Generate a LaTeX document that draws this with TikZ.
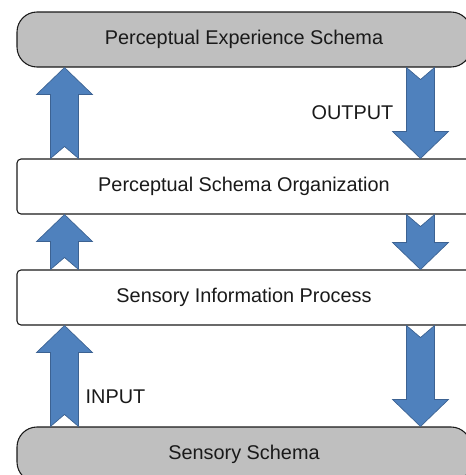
\documentclass[tikz,border=0pt]{standalone}
\usepackage{fontspec}
\setmainfont{Liberation Sans}
\usetikzlibrary{calc}
\definecolor{boxgray}{RGB}{191,191,191}
\definecolor{arrowblue}{RGB}{79,129,189}
\definecolor{arrowedge}{RGB}{60,98,146}
\definecolor{textdark}{RGB}{26,26,26}

\tikzset{
  schemabox/.style={draw=textdark, line width=0.8pt, fill=boxgray, rounded corners=15pt,
    minimum width=340.5pt, minimum height=41.25pt, inner sep=0pt, text=textdark,
    font=\fontsize{14.9}{18}\selectfont},
  stagebox/.style={schemabox, fill=white, rounded corners=3pt},
  flowlabel/.style={text=textdark, inner sep=0pt, font=\fontsize{14.9}{18}\selectfont},
  blockarrow/.style={fill=arrowblue, draw=arrowedge, line width=0.5pt}
}

% notched block arrow from #1 (tail) to #2 (tip)
\newcommand{\bigarrow}[2]{%
  \coordinate (ta) at (#1);
  \coordinate (tb) at (#2);
  \coordinate (hb) at ($(tb)!20.25pt!(ta)$);
  \draw[blockarrow] ($(ta)!10.5pt!90:(tb)$) -- ($(hb)!10.5pt!90:(tb)$) -- ($(hb)!21pt!90:(tb)$)
    -- (tb) -- ($(hb)!21pt!-90:(tb)$) -- ($(hb)!10.5pt!-90:(tb)$)
    -- ($(ta)!10.5pt!-90:(tb)$) -- ($(ta)!9pt!(tb)$) -- cycle;}

\begin{document}
\begin{tikzpicture}[x=0.75pt,y=-0.75pt]
    \useasboundingbox (0,0) rectangle (465,475);
    \node[schemabox] (pes) at (244,39.5) {Perceptual Experience Schema};
    \node[stagebox] (pso) at (244,186.5) {Perceptual Schema Organization};
    \node[stagebox] (sip) at (244,297.5) {Sensory Information Process};
    \node[schemabox] (ss) at (244,454.5) {Sensory Schema};
    \coordinate (lc) at (64.5,0);
    \coordinate (rc) at (420.5,0);
    % upward flow on the left
    \bigarrow{ss.north -| lc}{sip.south -| lc}
    \bigarrow{sip.north -| lc}{pso.south -| lc}
    \bigarrow{pso.north -| lc}{pes.south -| lc}
    % downward flow on the right
    \bigarrow{pes.south -| rc}{pso.north -| rc}
    \bigarrow{pso.south -| rc}{sip.north -| rc}
    \bigarrow{sip.south -| rc}{ss.north -| rc}
    \node[flowlabel] (outlbl) at (352.5,113) {OUTPUT};
    \node[flowlabel] (inlbl) at (115.5,397) {INPUT};
\end{tikzpicture}
\end{document}
